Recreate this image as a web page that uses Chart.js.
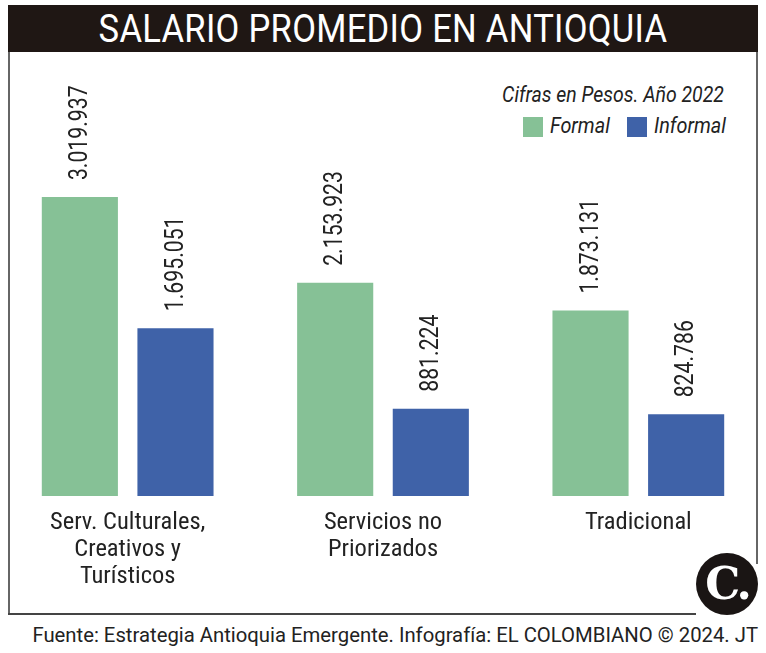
<!DOCTYPE html>
<html><head><meta charset="utf-8">
<script src="https://cdn.jsdelivr.net/npm/chart.js@4.4.1/dist/chart.umd.min.js"></script>
<style>
html,body{margin:0;padding:0;background:#fff;width:766px;height:653px;overflow:hidden;position:relative;font-family:Roboto,sans-serif;}
#band{position:absolute;left:8px;top:5px;width:750px;height:47px;background:#1f1714;}
#title{position:absolute;left:0;top:5px;width:766px;height:47px;line-height:49px;text-align:center;color:#fff;font-size:38px;transform:scaleX(0.91);transform-origin:383px 0;letter-spacing:0.3px;}
#lb{position:absolute;left:8px;top:52px;width:2px;height:563px;background:#666;}
#rb{position:absolute;left:756px;top:52px;width:2px;height:512px;background:#666;}
#bb{position:absolute;left:8px;top:613px;width:688px;height:2px;background:#444;}
#sub{position:absolute;right:42px;top:82px;font-size:22px;font-style:italic;color:#222;transform:scaleX(0.884);transform-origin:right top;white-space:nowrap;}
.leg{position:absolute;top:117px;width:20px;height:20px;}
.legt{position:absolute;top:113px;font-size:22px;font-style:italic;color:#222;transform:scaleX(0.9);transform-origin:left top;white-space:nowrap;}
#foot{position:absolute;right:8px;top:623px;font-size:20.3px;color:#222;white-space:nowrap;}
#logo{position:absolute;left:696px;top:553px;width:62px;height:62px;border-radius:50%;background:#1a1514;color:#fff;font-family:'DejaVu Serif','Liberation Serif',serif;font-weight:bold;font-size:44px;line-height:62px;text-align:center;letter-spacing:-3px;}
#wrap{position:absolute;left:0;top:55px;width:766px;height:560px;}
</style></head>
<body>
<div id="band"></div><div id="title">SALARIO PROMEDIO EN ANTIOQUIA</div>
<div id="lb"></div><div id="rb"></div><div id="bb"></div>
<div id="sub">Cifras en Pesos. Año 2022</div>
<div class="leg" style="left:523px;background:#86c196"></div><div class="legt" style="left:550px">Formal</div>
<div class="leg" style="left:627px;background:#3f62a8"></div><div class="legt" style="left:654px">Informal</div>
<div id="wrap"><canvas id="c" width="766" height="560"></canvas></div>
<div id="logo">C.</div>
<div id="foot">Fuente: Estrategia Antioquia Emergente. Infografía: EL COLOMBIANO © 2024. JT</div>
<script>
const categories = [["Serv. Culturales,","Creativos y","Turísticos"],["Servicios no","Priorizados"],["Tradicional"]];
const seriesNames = ["Formal","Informal"];
const formalValues = [3019937, 2153923, 1873131];
const informalValues = [1695051, 881224, 824786];
const colors = ["#86c196","#3f62a8"];
const condFont = "'Roboto Condensed','Liberation Sans Narrow','DejaVu Sans Condensed',Roboto,sans-serif";

function fmt(v){return String(v).replace(/\B(?=(\d{3})+(?!\d))/g,'.');}

const valueLabels = {
  id:'valueLabels',
  afterDatasetsDraw(chart){
    const ctx = chart.ctx;
    chart.data.datasets.forEach((ds,di)=>{
      const meta = chart.getDatasetMeta(di);
      meta.data.forEach((bar,i)=>{
        ctx.save();
        ctx.translate(bar.x + 1, bar.y - 17);
        ctx.rotate(-Math.PI/2);
        ctx.scale(0.85, 1);
        ctx.font = "25px Roboto, sans-serif";
        ctx.fillStyle = "#222";
        ctx.textAlign = "left";
        ctx.textBaseline = "middle";
        ctx.fillText(fmt(ds.data[i]), 0, 0);
        ctx.restore();
      });
    });
  }
};

new Chart(document.getElementById('c'), {
  type:'bar',
  data:{
    labels: categories,
    datasets:[
      {label:seriesNames[0], data:formalValues, backgroundColor:colors[0], categoryPercentage:0.749, barPercentage:0.796},
      {label:seriesNames[1], data:informalValues, backgroundColor:colors[1], categoryPercentage:0.749, barPercentage:0.796}
    ]
  },
  options:{
    responsive:false, animation:false,
    layout:{padding:{top:104.5,bottom:12,left:0,right:0}},
    plugins:{legend:{display:false}, tooltip:{enabled:false}},
    scales:{
      x:{grid:{display:false,drawTicks:false}, border:{display:false},
         ticks:{color:"#222", padding:13, maxRotation:0, autoSkip:false,
                font:{family:condFont,size:24.5,lineHeight:'27px'}}},
      y:{display:false, min:0, max:3400000}
    }
  },
  plugins:[valueLabels]
});
</script>
</body></html>
